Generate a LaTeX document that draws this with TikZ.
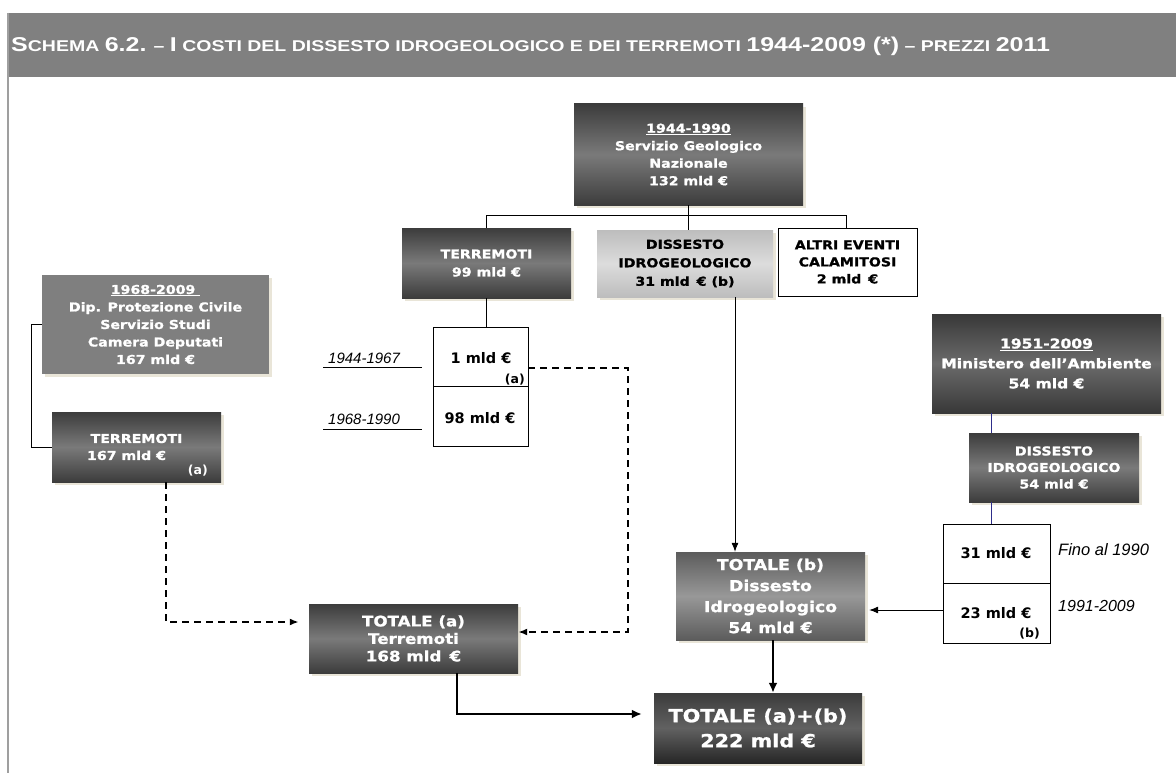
\documentclass[tikz,border=0pt]{standalone}
\usepackage{fontspec}
\setmainfont{Liberation Sans}
\newfontfamily\bx[FakeStretch=1.15,FakeBold=1.2]{DejaVu Sans}
\newfontfamily\djv{DejaVu Sans}
\newfontfamily\hdr[FakeStretch=1.25]{Liberation Sans}
\usetikzlibrary{arrows.meta,shadows}
\definecolor{band}{HTML}{808080}
\definecolor{dtop}{HTML}{3C3C3C}
\definecolor{dmid}{HTML}{7A7A7A}
\definecolor{ltop}{HTML}{BDBDBD}
\definecolor{lmid}{HTML}{DCDCDC}
\definecolor{shad}{HTML}{E9E5D8}
\definecolor{navy}{HTML}{2E2E8A}
\definecolor{flatg}{HTML}{7F7F7F}
\definecolor{btop}{HTML}{5C5C5C}
\definecolor{bmid}{HTML}{989898}
\newcommand\hbig[1]{{\fontsize{20}{22}\selectfont #1}}
\tikzset{
  box/.style={rectangle, inner sep=0pt, align=center,
    drop shadow={shadow xshift=3pt, shadow yshift=-3pt, fill=shad, opacity=1}},
  darkbox/.style={box, top color=dtop, bottom color=dtop, middle color=dmid, text=white,
    font={\bx\bfseries\fontsize{12.3}{17.5}\selectfont}},
  lightbox/.style={box, top color=ltop, bottom color=ltop, middle color=lmid, text=black,
    font={\bx\bfseries\fontsize{12.3}{18.5}\selectfont}},
  flatbox/.style={box, fill=flatg, text=white,
    font={\bx\bfseries\fontsize{12.3}{17.5}\selectfont}},
  wbox/.style={rectangle, draw=black, line width=0.8pt, fill=white, inner sep=0pt, align=center},
  celltxt/.style={inner sep=0pt, font={\djv\bfseries\fontsize{14.5}{16}\selectfont}},
  smalltxt/.style={inner sep=0pt, font={\djv\bfseries\fontsize{12.5}{14}\selectfont}},
  itlab/.style={inner sep=0pt, font={\itshape\fontsize{15}{17}\selectfont}},
  conn/.style={draw=black, line width=0.8pt},
  nconn/.style={draw=navy, line width=0.8pt},
  dconn/.style={draw=black, line width=1.8pt, dash pattern=on 7pt off 5pt},
  thk/.style={draw=black, line width=2.6pt},
  arr/.style={-{Latex[length=9pt,width=7pt]}},
  tarr/.style={-{Latex[length=10pt,width=9pt]}},
}
\begin{document}
\begin{tikzpicture}[x=1pt,y=-1pt]
\useasboundingbox (0,0) rectangle (1176,773);
\fill[white] (0,0) rectangle (1176,773);
% header
\fill[band] (8,13) rectangle (1176,77);
\draw[gray!75, line width=1.5pt] (8,13) -- (8,773);
\node[anchor=base west, inner sep=0pt, text=white, font={\hdr\bfseries\fontsize{15.6}{18}\selectfont}] (title) at (11,52)
  {\hbig{S}CHEMA \hbig{6.2.} – \hbig{I} COSTI DEL DISSESTO IDROGEOLOGICO E DEI TERREMOTI \hbig{1944-2009 (*)} – PREZZI \hbig{2011}};

% boxes
\node[darkbox, minimum width=229pt, minimum height=101pt] (top) at (688.5,154.5)
  {\underline{1944-1990}\\Servizio Geologico\\Nazionale\\132 mld €};
\node[darkbox, minimum width=169pt, minimum height=70pt, font={\bx\bfseries\fontsize{12.3}{18}\selectfont}] (terr99) at (486.5,263)
  {TERREMOTI\\99 mld €};
\node[lightbox, minimum width=176pt, minimum height=67pt] (diss31) at (685,263.5)
  {DISSESTO\\IDROGEOLOGICO\\31 mld \,€ (b)};
\node[wbox, minimum width=139pt, minimum height=68pt, font={\bx\bfseries\fontsize{12.3}{17}\selectfont}] (altri) at (847.5,262)
  {ALTRI EVENTI\\CALAMITOSI\\2 mld \,€};
\node[wbox, minimum width=95pt, minimum height=59pt] (st1) at (480.5,356.5) {};
\node[wbox, minimum width=95pt, minimum height=60pt] (st2) at (480.5,416) {};
\node[flatbox, minimum width=227pt, minimum height=99pt] (prot) at (155.5,324.5)
  {\underline{1968-2009\ }\\Dip. Protezione Civile\\Servizio Studi\\Camera Deputati\\167 mld €};
\node[darkbox, minimum width=169pt, minimum height=70pt, font={\bx\bfseries\fontsize{12.3}{17}\selectfont}] (terr167) at (136.5,447)
  {TERREMOTI\\167 mld €\hspace*{20pt}};
\node[darkbox, minimum width=209pt, minimum height=69pt, font={\bx\bfseries\fontsize{14.5}{17.5}\selectfont}] (totA) at (413.5,638.5)
  {TOTALE (a)\\Terremoti\\168 mld \,€};
\node[darkbox, top color=btop, bottom color=btop, middle color=bmid, minimum width=189pt, minimum height=88pt, font={\bx\bfseries\fontsize{15}{21}\selectfont}] (totB) at (770.5,596)
  {TOTALE (b)\\Dissesto\\Idrogeologico\\54 mld €};
\node[darkbox, top color=dtop, bottom color=black!85, middle color=black!62, minimum width=208pt, minimum height=70pt, font={\bx\bfseries\fontsize{18}{25}\selectfont}] (totAB) at (758,728)
  {TOTALE (a)+(b)\\222 mld €};
\node[darkbox, top color=black!78, bottom color=black!78, middle color=black!58, minimum width=229pt, minimum height=99pt, font={\bx\bfseries\fontsize{13.5}{20}\selectfont}] (mini) at (1046.5,363.5)
  {\underline{1951-2009}\\Ministero dell’Ambiente\\54 mld €};
\node[darkbox, minimum width=170pt, minimum height=69pt, font={\bx\bfseries\fontsize{12.3}{16.5}\selectfont}] (diss54) at (1054,467.5)
  {DISSESTO\\IDROGEOLOGICO\\54 mld €};
\node[wbox, minimum width=107pt, minimum height=59pt] (rs1) at (996.5,553.5) {};
\node[wbox, minimum width=107pt, minimum height=60pt] (rs2) at (996.5,613) {};

% cell texts
\node[celltxt, anchor=base] (t1) at (481,363) {1 mld €};
\node[smalltxt, anchor=base east] (ta) at (525,383) {(a)};
\node[celltxt, anchor=base] (t98) at (480,423) {98 mld €};
\node[celltxt, anchor=base] (t31) at (996,558) {31 mld €};
\node[celltxt, anchor=base] (t23) at (996,618) {23 mld €};
\node[smalltxt, anchor=base east] (tb) at (1040,637) {(b)};
\node[smalltxt, anchor=base east, text=white] (ta2) at (208,474) {(a)};

% italic labels
\node[itlab, anchor=base west] (l1) at (328,363) {1944-1967};
\node[itlab, anchor=base west] (l2) at (328,424) {1968-1990};
\node[itlab, anchor=base west, font={\itshape\fontsize{16.5}{18}\selectfont}] (l3) at (1058,555) {Fino al 1990};
\node[itlab, anchor=base west, font={\itshape\fontsize{16}{18}\selectfont}] (l4) at (1058,611) {1991-2009};
\coordinate (u1a) at (323,367); \coordinate (u1b) at (422,367);
\coordinate (u2a) at (323,429); \coordinate (u2b) at (422,429);
\draw[conn] (u1a) -- (u1b);
\draw[conn] (u2a) -- (u2b);

% connectors top tree
\coordinate (brL) at (486.5,215);
\coordinate (brR) at (846,215);
\draw[conn] (top.south) -- (top.south |- brL);
\draw[conn] (brL) -- (brR);
\draw[conn] (brL) -- (terr99.north);
\draw[conn] (top.south |- brL) -- (top.south |- diss31.north);
\draw[conn] (brR) -- (brR |- altri.north);
\draw[conn] (terr99.south) -- (terr99.south |- st1.north);

% diss31 to totB
\coordinate (dX) at (735,0);
\draw[conn, arr] (diss31.south -| dX) -- (totB.north -| dX);

% left connector
\draw[conn] (prot.west) -- ++(-10,0) |- (terr167.west);

% dashed A
\coordinate (dA1) at (628,368);
\coordinate (dA2) at (628,632);
\draw[dconn, arr] (st1.east |- dA1) -| (dA2) -- (totA.east |- dA2);
% dashed B
\coordinate (dB) at (166,622);
\draw[dconn, arr, shorten >=10pt] (terr167.south -| dB) -- (dB) -- (totA.west |- dB);

% thick arrows
\coordinate (tk) at (457,714);
\draw[thk, tarr, shorten >=12pt] (totA.south -| tk) |- (totAB.west |- tk);
\coordinate (tk2) at (773,0);
\draw[thk, tarr] (totB.south -| tk2) -- (totAB.north -| tk2);

% right side
\coordinate (nv) at (991,0);
\draw[nconn] (mini.south -| nv) -- (diss54.north -| nv);
\draw[nconn] (diss54.south -| nv) -- (rs1.north -| nv);
\coordinate (ra) at (943,610);
\draw[conn, arr, shorten >=4pt] (rs2.west |- ra) -- (totB.east |- ra);
\end{tikzpicture}
\end{document}
